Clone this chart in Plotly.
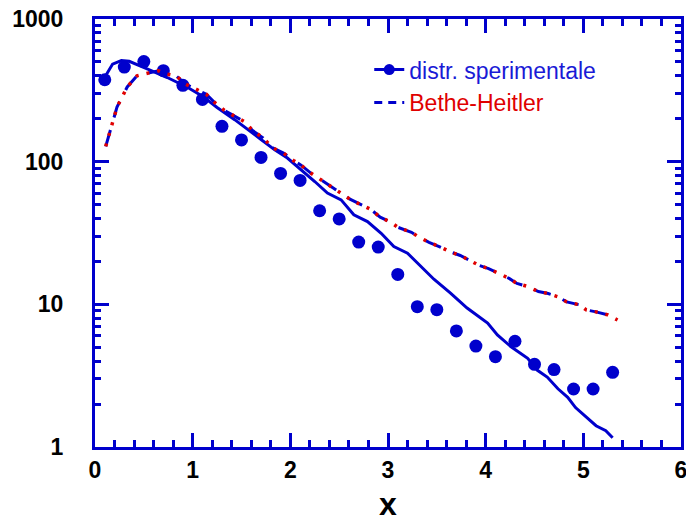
import plotly.graph_objects as go

BLUE = "#0000cc"
RED = "#e00000"

# Experimental points (dots)
dots_x = [0.1, 0.3, 0.5, 0.7, 0.9, 1.1, 1.3, 1.5, 1.7, 1.9, 2.1, 2.3, 2.5, 2.7,
          2.9, 3.1, 3.3, 3.5, 3.7, 3.9, 4.1, 4.3, 4.5, 4.7, 4.9, 5.1, 5.3]
dots_y = [375, 460, 503, 434, 343, 273, 177, 142, 107, 82.7, 73.9, 45.3, 39.7, 27.3,
          25.2, 16.2, 9.63, 9.17, 6.51, 5.10, 4.30, 5.51, 3.80, 3.49, 2.55, 2.55, 3.34]

# Solid line (distr. sperimentale)
exp_x = [0.10, 0.18, 0.27, 0.35, 0.54, 0.74, 0.95, 1.10, 1.25, 1.43, 1.70, 1.84, 1.97,
         2.11, 2.25, 2.38, 2.52, 2.65, 2.79, 2.93, 3.06, 3.20, 3.34, 3.47, 3.64, 3.81,
         4.02, 4.12, 4.26, 4.43, 4.53, 4.63, 4.74, 4.84, 4.92, 5.08, 5.13, 5.23, 5.30]
exp_y = [390, 483, 511, 505, 446, 389, 331, 288, 240, 197, 143, 121, 106,
         87.9, 72.6, 60.2, 54.0, 42.4, 38.0, 31.5, 25.4, 22.8, 18.3, 15.0, 12.0, 9.42,
         7.39, 6.10, 5.04, 4.18, 3.45, 3.09, 2.56, 2.23, 1.89, 1.51, 1.41, 1.30, 1.16]

# Bethe-Heitler curve
bh_x = [0.11, 0.225, 0.33, 0.43, 0.515, 0.65, 0.72, 0.83, 0.93, 1.04, 1.14, 1.22, 1.32,
        1.41, 1.54, 1.61, 1.72, 1.82, 1.93, 2.03, 2.11, 2.21, 2.33, 2.43, 2.53, 2.61,
        2.71, 2.82, 2.92, 3.03, 3.10, 3.24, 3.32, 3.42, 3.53, 3.64, 3.74, 3.82, 3.93,
        4.03, 4.14, 4.24, 4.32, 4.42, 4.54, 4.64, 4.74, 4.83, 4.96, 5.03, 5.13, 5.25, 5.35]
bh_y = [128, 241, 334, 400, 413, 434, 413, 400, 349, 321, 297, 262, 230,
        212, 189, 166, 147, 125, 115, 102, 94.5, 83.2, 73.1, 65.3, 59.3, 54.6,
        50.4, 46.5, 40.8, 37.6, 34.7, 32.0, 29.5, 27.2, 25.3, 23.3, 22.0, 20.5, 18.8,
        17.8, 16.5, 15.2, 14.0, 13.4, 12.3, 11.9, 11.3, 10.4, 9.92, 9.14, 8.85, 8.43, 7.76]

x_ticks = [0, 1, 2, 3, 4, 5, 6]
y_ticks = [1, 10, 100, 1000]
y_ticktext = ["1", "10", "100", "1000"]

fig = go.Figure()

fig.add_trace(go.Scatter(x=exp_x, y=exp_y, mode="lines",
                         line=dict(color=BLUE, width=3), showlegend=False))
fig.add_trace(go.Scatter(x=dots_x, y=dots_y, mode="markers",
                         marker=dict(color=BLUE, size=13), showlegend=False))
fig.add_trace(go.Scatter(x=bh_x, y=bh_y, mode="lines",
                         line=dict(color=BLUE, width=3, dash="17px,13px"),
                         showlegend=False))
fig.add_trace(go.Scatter(x=bh_x, y=bh_y, mode="lines",
                         line=dict(color=RED, width=3.5, dash="3px,8px"),
                         showlegend=False))

# legend entries
fig.add_trace(go.Scatter(x=[None], y=[None], mode="lines+markers",
                         line=dict(color=BLUE, width=3), marker=dict(color=BLUE, size=11),
                         name="<span style='color:#1a1ad6'>distr. sperimentale</span>"))
fig.add_trace(go.Scatter(x=[None], y=[None], mode="lines",
                         line=dict(color=BLUE, width=3, dash="8px,6px"),
                         name="<span style='color:#e00000'>Bethe-Heitler</span>"))

axis_common = dict(
    showline=True, linecolor=BLUE, linewidth=3, mirror="allticks",
    ticks="inside", tickcolor=BLUE, tickwidth=3, ticklen=14,
    showgrid=False, zeroline=False, automargin=False, ticklabeloverflow="allow",
    tickfont=dict(family="Liberation Sans, Arial", size=23, color="black", weight="bold"),
)

fig.update_xaxes(range=[0, 6], tickvals=x_ticks,
                 minor=dict(ticks="inside", ticklen=7, tickwidth=3, tickcolor=BLUE,
                            dtick=0.2, tick0=0, showgrid=False),
                 title=dict(text="x", font=dict(family="Liberation Sans, Arial", size=32,
                                                color="black", weight="bold"), standoff=14),
                 ticklabelstandoff=0,
                 **axis_common)
fig.update_yaxes(type="log", range=[0, 3], tickvals=y_ticks, ticktext=y_ticktext,
                 minor=dict(ticks="inside", ticklen=6, tickwidth=3, tickcolor=BLUE,
                            dtick="D1", showgrid=False),
                 ticklabelstandoff=24,
                 **axis_common)

fig.update_layout(
    width=686, height=522,
    margin=dict(l=95, r=5, t=19, b=75),
    plot_bgcolor="white", paper_bgcolor="white",
    legend=dict(x=0.468, y=0.932, xanchor="left", yanchor="top",
                font=dict(family="Liberation Sans, Arial", size=23),
                bgcolor="rgba(0,0,0,0)", itemwidth=30, tracegroupgap=0),
)

fig.write_html("out.html")
